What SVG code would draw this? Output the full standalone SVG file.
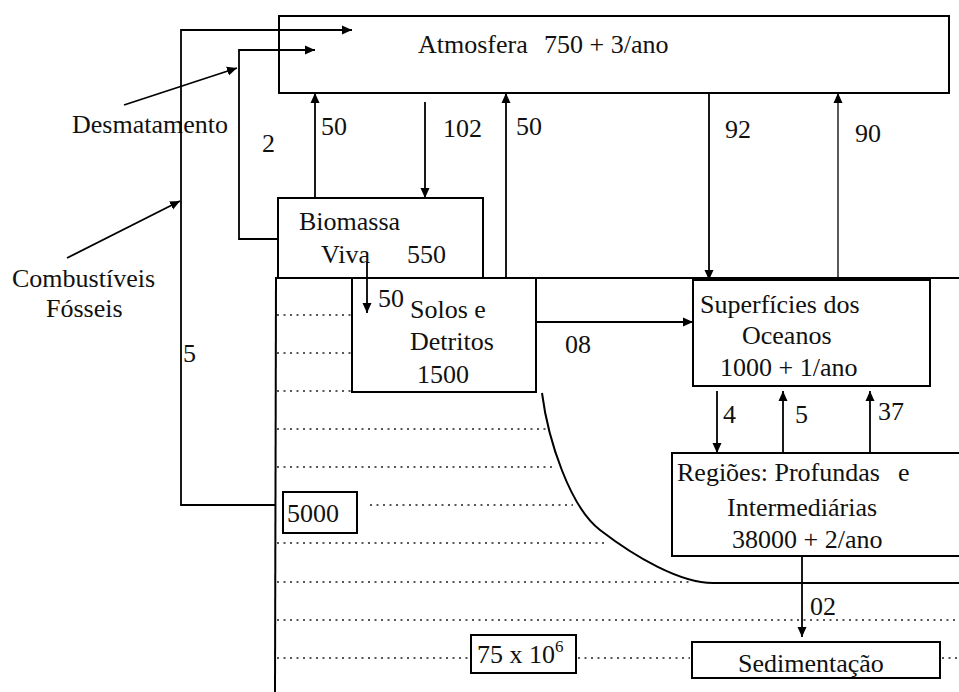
<svg xmlns="http://www.w3.org/2000/svg" width="959" height="692" viewBox="0 0 959 692">
<defs>
<marker id="ah" markerUnits="userSpaceOnUse" markerWidth="10" markerHeight="10" refX="10" refY="5" orient="auto">
<path d="M0,0.5 L10,5 L0,9.5 z" fill="#000"/>
</marker>
<style>
text{font-family:"Liberation Serif","Times New Roman",serif;font-size:26px;fill:#111}
.box{fill:#fff;stroke:#000;stroke-width:2}
.ln{fill:none;stroke:#000;stroke-width:2}
.cn{fill:none;stroke:#000;stroke-width:1.8;marker-end:url(#ah)}
.dot{fill:none;stroke:#222;stroke-width:1.5;stroke-dasharray:2 4.5}
</style>
</defs>
<rect width="959" height="692" fill="#fff"/>

<g id="terreno">
<path class="ln" d="M275,278 H959"/>
<path class="ln" d="M276,278 L275,692"/>
<path class="ln" d="M542,393 C548,440 570,507 600,530 C635,557 680,583 713,583 H959"/>
<path class="dot" d="M277,315 H352 M277,353 H352 M277,391 H352 M277,429 H550 M277,467 H556 M370,505 H573 M277,543 H605 M277,582 H690 M277,620 H959 M277,658 H469 M578,658 H690 M942,658 H959"/>
</g>

<g id="atmosfera">
<rect class="box" x="279" y="16" width="670" height="77"/>
<text y="53"><tspan x="418">Atmosfera</tspan><tspan x="544">750 + 3/ano</tspan></text>
</g>

<g id="biomassa">
<rect class="box" x="278" y="198" width="205" height="80"/>
<text x="299" y="230">Biomassa</text>
<text y="263"><tspan x="321">Viva</tspan><tspan x="407">550</tspan></text>
</g>

<g id="solos">
<rect class="box" x="352" y="278" width="184" height="114"/>
<text x="410" y="318">Solos e</text>
<text x="410" y="350">Detritos</text>
<text x="417" y="383">1500</text>
</g>

<g id="superficies">
<rect class="box" x="693" y="280" width="237" height="106"/>
<text x="700" y="313">Superfícies dos</text>
<text x="742" y="344">Oceanos</text>
<text x="720" y="376">1000 + 1/ano</text>
</g>

<g id="regioes">
<rect class="box" x="672" y="453" width="300" height="103"/>
<text y="481"><tspan x="677">Regiões: Profundas</tspan><tspan x="898">e</tspan></text>
<text x="727" y="516">Intermediárias</text>
<text x="732" y="548">38000 + 2/ano</text>
</g>

<g id="sedimentacao">
<rect class="box" x="692" y="642" width="248" height="36"/>
<text x="738" y="672">Sedimentação</text>
</g>

<g id="estoque5000">
<rect class="box" x="283" y="492" width="74" height="41"/>
<text x="287" y="522">5000</text>
</g>

<g id="estoque75">
<rect class="box" x="471" y="635" width="105" height="38"/>
<text x="477" y="663">75 x 10<tspan dy="-11" font-size="17">6</tspan></text>
</g>

<g id="desmatamento">
<text x="72" y="133">Desmatamento</text>
</g>

<g id="combustiveis">
<text x="12" y="287">Combustíveis</text>
<text x="46" y="317">Fósseis</text>
</g>

<g id="connectors">
<path class="cn" d="M275,505 H181 V30 H352"/>
<path class="cn" d="M278,239 H239 V50 H315"/>
<path class="cn" d="M124,105 L237,68"/>
<path class="cn" d="M67,258 L180,201"/>
<path class="cn" d="M315,198 V93"/>
<path class="cn" d="M425,102 V198"/>
<path class="cn" d="M506,278 V93"/>
<path class="cn" d="M709,93 V280"/>
<path class="cn" style="stroke-width:1.3" d="M838,280 V93"/>
<path class="cn" d="M367,262 V313"/>
<path class="cn" d="M536,322 H693"/>
<path class="cn" d="M717,391 V453"/>
<path class="cn" d="M783,453 V391"/>
<path class="cn" d="M870,453 V391"/>
<path class="cn" d="M802,556 V637"/>
<text x="262" y="152">2</text>
<text x="183" y="362">5</text>
<text x="321" y="135">50</text>
<text x="443" y="137">102</text>
<text x="516" y="135">50</text>
<text x="725" y="138">92</text>
<text x="855" y="142">90</text>
<text x="378" y="307">50</text>
<text x="565" y="353">08</text>
<text x="723" y="423">4</text>
<text x="795" y="423">5</text>
<text x="878" y="420">37</text>
<text x="810" y="615">02</text>
</g>
</svg>
